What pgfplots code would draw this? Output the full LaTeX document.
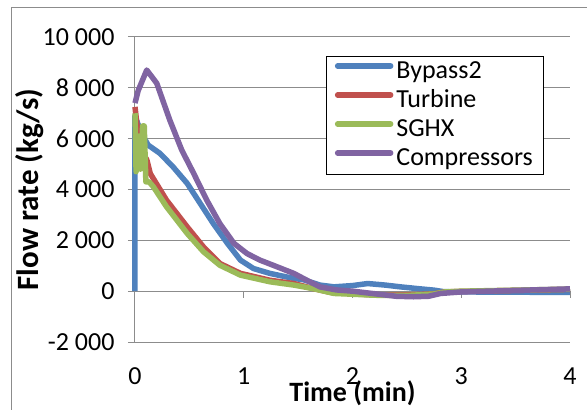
\documentclass[border=0pt]{standalone}
\usepackage{pgfplots}
\pgfplotsset{compat=1.18}
\usepackage{pgfplotstable}
\usepackage{fontspec}
\setmainfont{Carlito}

\definecolor{xlblue}{HTML}{4F81BD}
\definecolor{xlred}{HTML}{C0504D}
\definecolor{xlgreen}{HTML}{9BBB59}
\definecolor{xlpurple}{HTML}{8064A2}
\definecolor{xlgrid}{HTML}{8C8C8C}

% Flow rates (kg/s) against time (min)
\pgfplotstableread{
t q
0 0
0 6900
0.05 6300
0.12 5750
0.23 5420
0.35 4890
0.48 4240
0.6 3450
0.72 2660
0.85 1880
0.97 1220
1.09 890
1.24 700
1.46 500
1.55 450
1.7 240
1.83 170
2.0 220
2.14 300
2.3 240
2.44 170
2.6 100
2.75 40
2.84 -20
3.0 -30
3.5 -40
4.0 -50
}\bypass

\pgfplotstableread{
t q
0 7250
0.03 6100
0.08 5400
0.11 5150
0.14 4630
0.29 3580
0.48 2530
0.63 1740
0.78 1090
0.97 700
1.24 430
1.46 300
1.64 100
1.8 -50
2.0 -100
2.2 -150
2.5 -150
2.75 -100
2.85 -30
3.0 -10
3.5 30
4.0 70
}\turbine

\pgfplotstableread{
t q
0 7000
0.01 4700
0.03 6100
0.05 4800
0.07 6500
0.085 6500
0.1 4300
0.13 4300
0.17 4100
0.29 3320
0.48 2270
0.63 1550
0.78 1020
0.97 630
1.24 370
1.46 240
1.64 100
1.83 -90
2.0 -120
2.2 -160
2.5 -170
2.75 -110
2.85 -30
3.0 0
3.5 40
4.0 80
}\sghx

\pgfplotstableread{
t q
0 7400
0.03 7900
0.108 8700
0.2 8180
0.32 6730
0.43 5550
0.54 4630
0.66 3580
0.78 2660
0.91 1880
1.03 1480
1.15 1220
1.27 1020
1.46 700
1.58 430
1.7 170
1.85 50
2.0 0
2.2 -100
2.4 -200
2.56 -220
2.7 -200
2.81 -90
3.0 -30
3.5 30
4.0 90
}\compressors

\begin{document}
\begin{tikzpicture}
\path[use as bounding box] (0,0) rectangle (587pt,410pt);
% outer chart frame
\draw[xlgrid, line width=1pt] (11pt,0) -- (11pt,402pt) -- (587pt,402pt);
\begin{axis}[
  at={(135pt,68pt)}, anchor=south west,
  scale only axis, width=435pt, height=305pt,
  xmin=0, xmax=4, ymin=-2000, ymax=10000,
  xtick={0,1,2,3,4}, ytick={-2000,0,2000,4000,6000,8000,10000},
  scaled y ticks=false,
  axis x line*=bottom, axis y line*=left,
  x axis line style={xlgrid, line width=1pt, -},
  y axis line style={xlgrid, line width=1pt, -},
  major x tick style={draw=none},
  major y tick style={xlgrid, line width=1pt},
  tick align=outside, major tick length=7pt,
  ymajorgrids, grid style={xlgrid, line width=1pt},
  font=\fontsize{26}{30}\selectfont,
  /pgf/number format/assume math mode=true,
  /pgf/number format/1000 sep={\ },
  xticklabel={\pgfmathprintnumber{\tick}},
  yticklabel={\pgfmathprintnumber{\tick}},
  yticklabel style={xshift=-10pt},
  xticklabel style={yshift=-15pt},
  xlabel={\textbf{Time (min)}},
  ylabel={\textbf{Flow rate (kg/s)}},
  xlabel style={at={(axis description cs:0.5,0)}, anchor=north, yshift=-35pt,
    font=\fontsize{28}{32}\selectfont},
  ylabel style={at={(axis description cs:0,0.5)}, anchor=south, yshift=88pt,
    font=\fontsize{31}{35}\selectfont},
  legend style={at={(rel axis cs:0.440,0.938)}, anchor=north west,
    draw=black, line width=1pt, fill=white, inner xsep=8pt, inner ysep=1pt,
    font=\fontsize{26}{30}\selectfont, row sep=0pt, column sep=0pt,
    nodes={inner ysep=1pt, inner xsep=3pt, text height=20pt, text depth=7pt},
    legend cell align=left},
  legend image code/.code={\draw[#1, line width=5.5pt, line cap=round] (4pt,6pt) -- (57pt,6pt);},
  clip=false,
]
% horizontal axis line at zero with its tick marks
\draw[xlgrid, line width=1pt] (axis cs:0,0) -- (axis cs:4,0);
\draw[xlgrid, line width=1pt] (axis cs:1,0) -- ([yshift=-7pt]axis cs:1,0);
\draw[xlgrid, line width=1pt] (axis cs:2,0) -- ([yshift=-7pt]axis cs:2,0);
\draw[xlgrid, line width=1pt] (axis cs:3,0) -- ([yshift=-7pt]axis cs:3,0);
\draw[xlgrid, line width=1pt] (axis cs:4,0) -- ([yshift=-7pt]axis cs:4,0);
\addplot[xlblue, line width=5.5pt, line join=round] table {\bypass};
\addlegendentry{Bypass2}
\addplot[xlred, line width=5.5pt, line join=round] table {\turbine};
\addlegendentry{Turbine}
\addplot[xlgreen, line width=5.5pt, line join=round] table {\sghx};
\addlegendentry{SGHX}
\addplot[xlpurple, line width=5.5pt, line join=round] table {\compressors};
\addlegendentry{Compressors}
\end{axis}
\end{tikzpicture}
\end{document}
